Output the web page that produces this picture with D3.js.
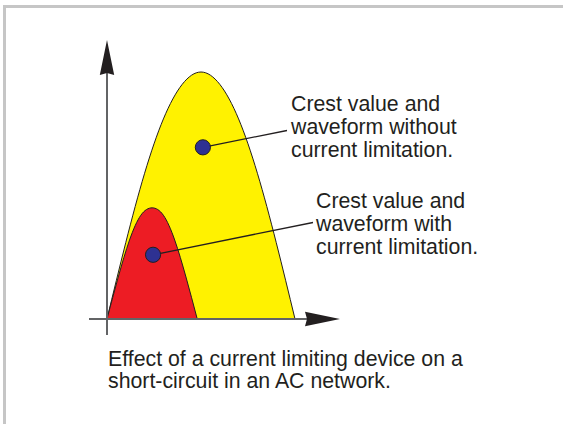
<!DOCTYPE html>
<html>
<head>
<meta charset="utf-8">
<script src="https://cdn.jsdelivr.net/npm/d3@7"></script>
<style>
  html, body { margin: 0; padding: 0; background: #fff; }
  svg { display: block; }
  .lbl { font-family: "Liberation Sans", Arial, sans-serif; font-size: 21.3px; fill: #231f20; }
</style>
</head>
<body>
<svg width="563" height="424"></svg>
<script>
// time in ms over one half-cycle, current in % of prospective crest
var prospT = [0, 1, 2, 3, 4, 5, 6, 7, 8, 9, 10],
    prospI = [0, 31, 59, 81, 95, 100, 95, 81, 59, 31, 0];

var limitT = [0, 0.6, 1.2, 1.8, 2.4, 3.0, 3.6, 4.2, 4.8],
    limitI = [0, 17, 32, 42, 45, 42, 32, 17, 0];

// crest markers [t, i]
var crests = [[5.1, 69.5], [2.45, 26]];

var labels = [
  ["Crest value and", "waveform without", "current limitation."],
  ["Crest value and", "waveform with", "current limitation."]
];
var caption = ["Effect of a current limiting device on a", "short-circuit in an AC network."];

var svg = d3.select("svg");

var x = d3.scaleLinear().domain([0, 10]).range([107, 295]),
    y = d3.scaleLinear().domain([0, 100]).range([319, 72]);

// frame
svg.append("path")
  .attr("d", "M4.5,424 V6.5 H563")
  .attr("fill", "none")
  .attr("stroke", "#c6c6c6")
  .attr("stroke-width", 3);

var area = d3.area()
  .x(d => x(d[0]))
  .y0(y(0))
  .y1(d => y(d[1]))
  .curve(d3.curveNatural);

var line = d3.line()
  .x(d => x(d[0]))
  .y(d => y(d[1]))
  .curve(d3.curveNatural);

var prosp = d3.zip(prospT, prospI),
    limit = d3.zip(limitT, limitI);

svg.append("path").attr("d", area(prosp)).attr("fill", "#fff200");
svg.append("path").attr("d", line(prosp)).attr("fill", "none").attr("stroke", "#231f20").attr("stroke-width", 1);
svg.append("path").attr("d", area(limit)).attr("fill", "#ed1c24");
svg.append("path").attr("d", line(limit)).attr("fill", "none").attr("stroke", "#231f20").attr("stroke-width", 1);

// axes
var x0 = x(0), y0 = y(0);
svg.append("line")
  .attr("x1", x0).attr("y1", y0 + 16)
  .attr("x2", x0).attr("y2", 70)
  .attr("stroke", "#636466").attr("stroke-width", 2);
svg.append("line")
  .attr("x1", x0 - 18).attr("y1", y0)
  .attr("x2", 310).attr("y2", y0)
  .attr("stroke", "#636466").attr("stroke-width", 2);

svg.append("path")
  .attr("d", "M" + x0 + ",40 L" + (x0 + 7.2) + ",75 L" + x0 + ",73 L" + (x0 - 7.2) + ",75 Z")
  .attr("fill", "#231f20");
svg.append("path")
  .attr("d", "M340," + y0 + " L305," + (y0 - 7.2) + " L307," + y0 + " L305," + (y0 + 7.2) + " Z")
  .attr("fill", "#231f20");

// leader lines
var ends = [[287, 130.5], [313, 222.5]];
svg.selectAll(".leader")
  .data(crests)
  .enter().append("line")
  .attr("class", "leader")
  .attr("x1", d => x(d[0])).attr("y1", d => y(d[1]))
  .attr("x2", (d, i) => ends[i][0]).attr("y2", (d, i) => ends[i][1])
  .attr("stroke", "#231f20").attr("stroke-width", 1.3);

svg.selectAll(".crest")
  .data(crests)
  .enter().append("circle")
  .attr("class", "crest")
  .attr("cx", d => x(d[0])).attr("cy", d => y(d[1]))
  .attr("r", 7.6)
  .attr("fill", "#2e3192")
  .attr("stroke", "#231f20").attr("stroke-width", 1);

// labels
var pos = [[291, 111], [316, 207.5]];
labels.forEach(function(lines, k) {
  svg.append("text")
    .attr("class", "lbl")
    .selectAll("tspan")
    .data(lines)
    .enter().append("tspan")
    .attr("x", pos[k][0])
    .attr("y", (d, i) => pos[k][1] + i * 23)
    .text(d => d);
});

svg.append("text")
  .attr("class", "lbl")
  .selectAll("tspan")
  .data(caption)
  .enter().append("tspan")
  .attr("x", 108)
  .attr("y", (d, i) => 366 + i * 22)
  .text(d => d);
</script>
</body>
</html>
